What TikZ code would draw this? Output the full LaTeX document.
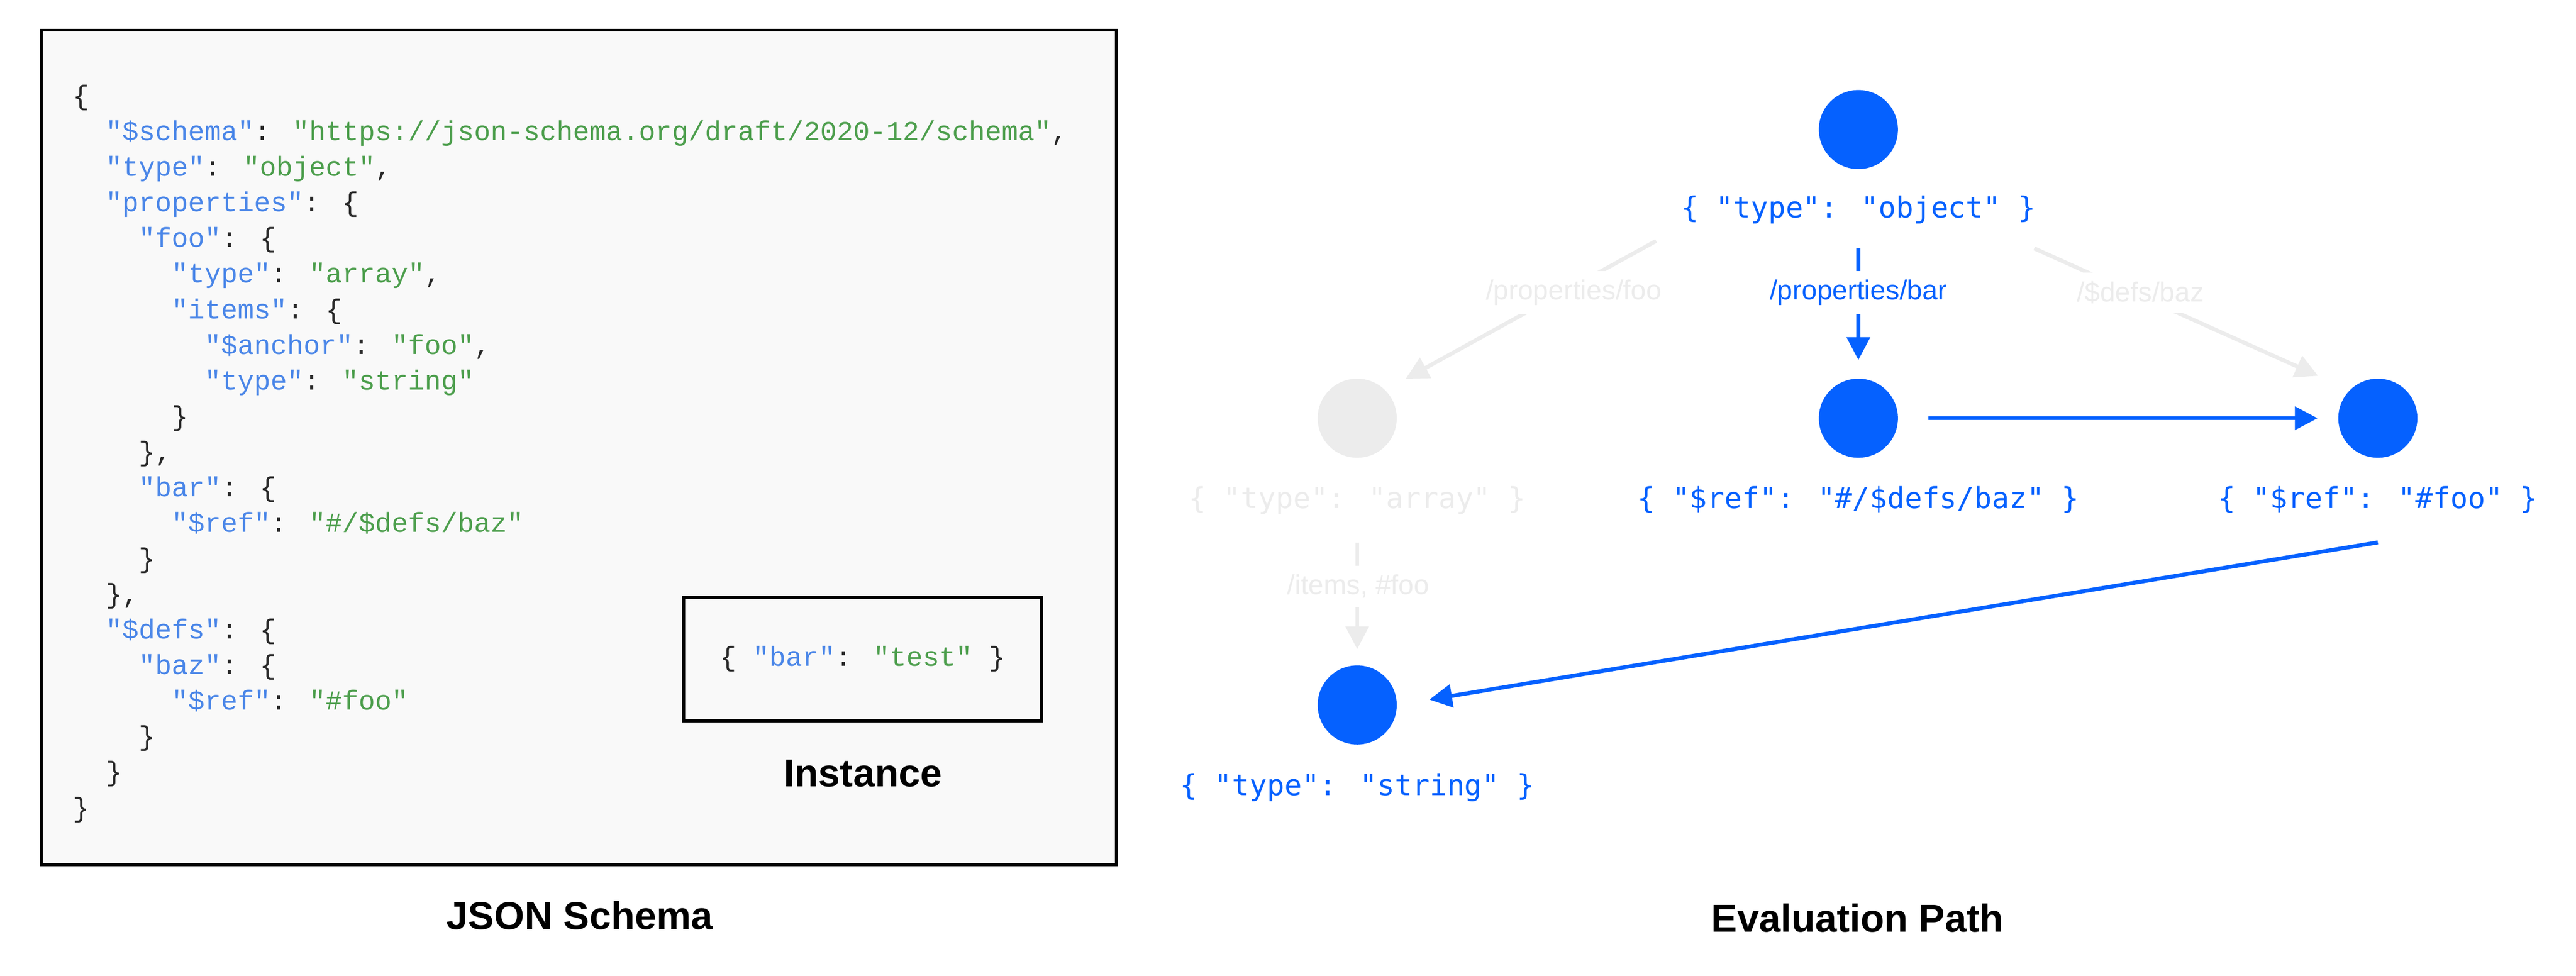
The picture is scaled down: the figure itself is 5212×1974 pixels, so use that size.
\documentclass[tikz,border=0pt]{standalone}
\usepackage{fontspec}
\setmainfont{Liberation Sans}
\newfontfamily\codefont{Liberation Mono}
\newfontfamily\pathfont{DejaVu Sans Mono}
\usetikzlibrary{arrows.meta}

\definecolor{keyblue}{RGB}{74,134,232}
\definecolor{strgreen}{RGB}{76,158,76}
\definecolor{punct}{RGB}{40,40,40}
\definecolor{evalblue}{RGB}{5,97,255}
\definecolor{faded}{RGB}{236,236,236}
\definecolor{panelbg}{RGB}{249,249,249}

\newcommand{\jkey}[1]{\textcolor{keyblue}{"#1"}}
\newcommand{\jstr}[1]{\textcolor{strgreen}{"#1"}}
\newcommand{\ind}[1]{\hspace*{#1\dimexpr 0.6em\relax}}

\tikzset{
  panel/.style={draw=black, line width=1.5pt, fill=panelbg},
  codetext/.style={font=\codefont\fontsize{13.9}{18}\selectfont, text=punct},
  title/.style={font=\bfseries\fontsize{19.7}{24}\selectfont},
  evalnode/.style={circle, fill=evalblue, minimum size=40pt, inner sep=0pt},
  skipnode/.style={evalnode, fill=faded},
  pathlbl/.style={font=\pathfont\fontsize{14.65}{18}\selectfont, text=evalblue,
    inner sep=0pt, text height=11.2pt, text depth=2pt},
  skiplbl/.style={pathlbl, text=faded},
  edgelbl/.style={font=\fontsize{13.9}{16}\selectfont, text=evalblue, fill=white, inner sep=4.5pt},
  skipedgelbl/.style={edgelbl, text=faded},
  evaledge/.style={->, draw=evalblue, line width=2pt},
  skipedge/.style={->, draw=faded, line width=2pt},
}

\begin{document}
\begin{tikzpicture}[>={Triangle[length=11.5pt,width=11.5pt]}, x=0.25pt, y=-0.25pt]
  \useasboundingbox (0,0) rectangle (5212,1974);
%%
  % Panel: JSON Schema
  \node[panel, minimum width=543.75pt, minimum height=422pt] (schemabox) at (1171.5,905) {};
  \node[codetext, align=left, inner sep=0pt, anchor=north west] (schema) at (147,161) {%
\strut\{\\
\ind{2}\jkey{\$schema}: \jstr{https://json-schema.org/draft/2020-12/schema},\\
\ind{2}\jkey{type}: \jstr{object},\\
\ind{2}\jkey{properties}: \{\\
\ind{4}\jkey{foo}: \{\\
\ind{6}\jkey{type}: \jstr{array},\\
\ind{6}\jkey{items}: \{\\
\ind{8}\jkey{\$anchor}: \jstr{foo},\\
\ind{8}\jkey{type}: \jstr{string}\\
\ind{6}\}\\
\ind{4}\},\\
\ind{4}\jkey{bar}: \{\\
\ind{6}\jkey{\$ref}: \jstr{\#/\$defs/baz}\\
\ind{4}\}\\
\ind{2}\},\\
\ind{2}\jkey{\$defs}: \{\\
\ind{4}\jkey{baz}: \{\\
\ind{6}\jkey{\$ref}: \jstr{\#foo}\\
\ind{4}\}\\
\ind{2}\}\\
\}};
  % Panel: Instance
  \node[panel, codetext, minimum width=181.25pt, minimum height=62.5pt] (instance) at (1745.5,1333)
    {\{ \jkey{bar}: \jstr{test} \}};
  \node[title] (insttitle) at (1746,1564) {Instance};
  \node[title] (schematitle) at (1173,1852) {JSON Schema};
%%
  % Node: object
  \node[evalnode] (obj) at (3760,262) {};
  \node[pathlbl] (objlbl) at (3760,422) {\{ "type": "object" \}};
  % Node: array
  \node[skipnode] (arr) at (2746,846) {};
  \node[skiplbl] (arrlbl) at (2746,1010) {\{ "type": "array" \}};
  % Node: bar
  \node[evalnode] (refbaz) at (3760,846) {};
  \node[pathlbl] (refbazlbl) at (3760,1010) {\{ "\$ref": "\#/\$defs/baz" \}};
  % Node: baz
  \node[evalnode] (ref) at (4811,846) {};
  \node[pathlbl] (reflbl) at (4811,1010) {\{ "\$ref": "\#foo" \}};
  % Node: string
  \node[evalnode] (str) at (2746,1426) {};
  \node[pathlbl] (strlbl) at (2746,1590) {\{ "type": "string" \}};
%%
  % Edge: object -> array
  \draw[skipedge, shorten <=96.6pt, shorten >=11.7pt] (obj) -- (arr.north east);
  \node[skipedgelbl] (lfoo) at (3184,592) {/properties/foo};
  % Edge: object -> bar
  \draw[evaledge, shorten <=40pt, shorten >=9.25pt] (obj) -- (refbaz);
  \node[edgelbl] (lbar) at (3760,592) {/properties/bar};
  % Edge: object -> baz
  \draw[skipedge, shorten <=97.5pt, shorten >=17.5pt] (obj.south) -- (ref.north west);
  \node[skipedgelbl] (lbaz) at (4331,592) {/\$defs/baz};
  % Edge: bar -> baz
  \draw[evaledge, shorten <=15.25pt, shorten >=10.25pt] (refbaz) -- (ref);
  % Edge: baz -> string
  \draw[evaledge, shorten >=16.5pt] ([yshift=-15pt]reflbl.south) -- (str.east);
  % Edge: array -> string
  \draw[skipedge, shorten >=8pt] ([yshift=-15pt]arrlbl.south) -- (str);
  \node[skipedgelbl] (litems) at (2748,1186) {/items, \#foo};
%%
  \node[title] (evaltitle) at (3758,1857) {Evaluation Path};
\end{tikzpicture}
\end{document}
